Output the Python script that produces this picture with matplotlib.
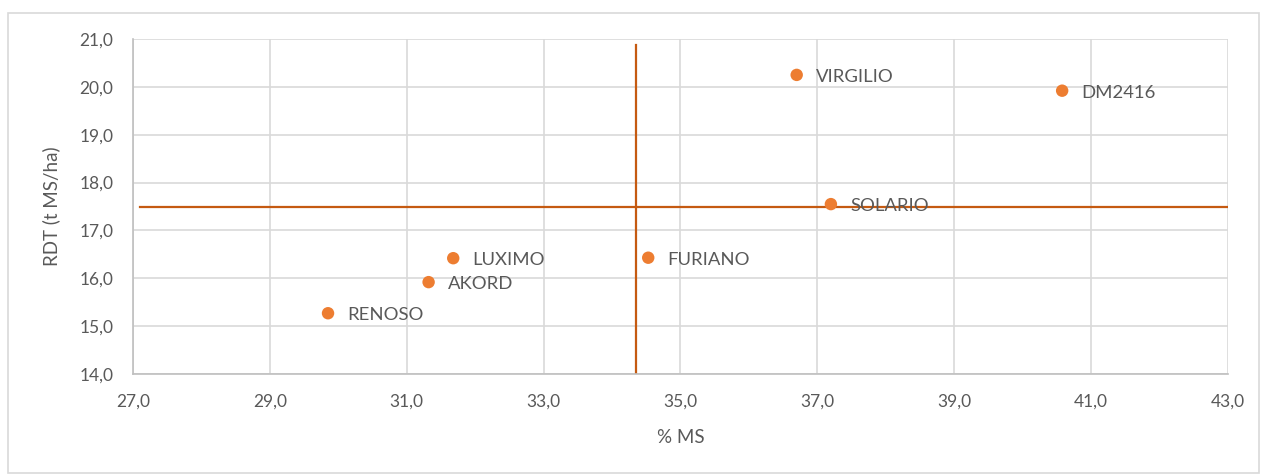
import matplotlib.pyplot as plt
from matplotlib.ticker import FuncFormatter

plt.rcParams['font.family'] = ['Lato', 'DejaVu Sans']

varietes = ['VIRGILIO', 'DM2416', 'SOLARIO', 'FURIANO', 'LUXIMO', 'AKORD', 'RENOSO']
ms = [36.7, 40.58, 37.2, 34.53, 31.68, 31.32, 29.85]
rdt = [20.25, 19.92, 17.55, 16.43, 16.42, 15.92, 15.27]

# lignes de moyenne
moy_ms = 34.35
moy_rdt = 17.48

gris = '#595959'
orange = '#ED7D31'
orange_fonce = '#C55A11'

fig = plt.figure(figsize=(12.67, 4.75), dpi=100)
ax = fig.add_axes([0.105, 0.2126, 0.864, 0.7053])

ax.plot([27.1, 43.0], [moy_rdt, moy_rdt], color=orange_fonce, lw=1.6, zorder=2)
ax.plot([moy_ms, moy_ms], [14.0, 20.87], color=orange_fonce, lw=1.6, zorder=2)
ax.scatter(ms, rdt, s=80, color=orange, edgecolors='none', zorder=3)

for nom, x, y in zip(varietes, ms, rdt):
    ax.annotate(nom, (x, y), xytext=(14, -1.5), textcoords='offset points',
                va='center', ha='left', fontsize=13.3, color=gris, zorder=4)

ax.set_xlim(27, 43)
ax.set_ylim(14, 21)
ax.set_xticks(range(27, 44, 2))
ax.set_yticks(range(14, 22))
fmt = FuncFormatter(lambda v, p: ('%.1f' % v).replace('.', ','))
ax.xaxis.set_major_formatter(fmt)
ax.yaxis.set_major_formatter(fmt)
ax.tick_params(length=0, labelsize=12.5, labelcolor=gris)
ax.tick_params(axis='x', pad=14)
ax.tick_params(axis='y', pad=14)

ax.grid(True, color='#d9d9d9', lw=1.2, zorder=0)
ax.set_axisbelow(True)
for s in ['top', 'right']:
    ax.spines[s].set_visible(False)
for s in ['left', 'bottom']:
    ax.spines[s].set_color('#bfbfbf')
    ax.spines[s].set_linewidth(1.2)

ax.set_xlabel('% MS', fontsize=13.5, color=gris, labelpad=14)
ax.set_ylabel('RDT (t MS/ha)', fontsize=13.5, color=gris, labelpad=14)

# cadre du graphique
fig.patches.append(plt.Rectangle((0.006, 0.005), 0.988, 0.968, transform=fig.transFigure,
                                 fill=False, edgecolor='#d9d9d9', lw=1.2))

fig.savefig('out.png', dpi=100)
